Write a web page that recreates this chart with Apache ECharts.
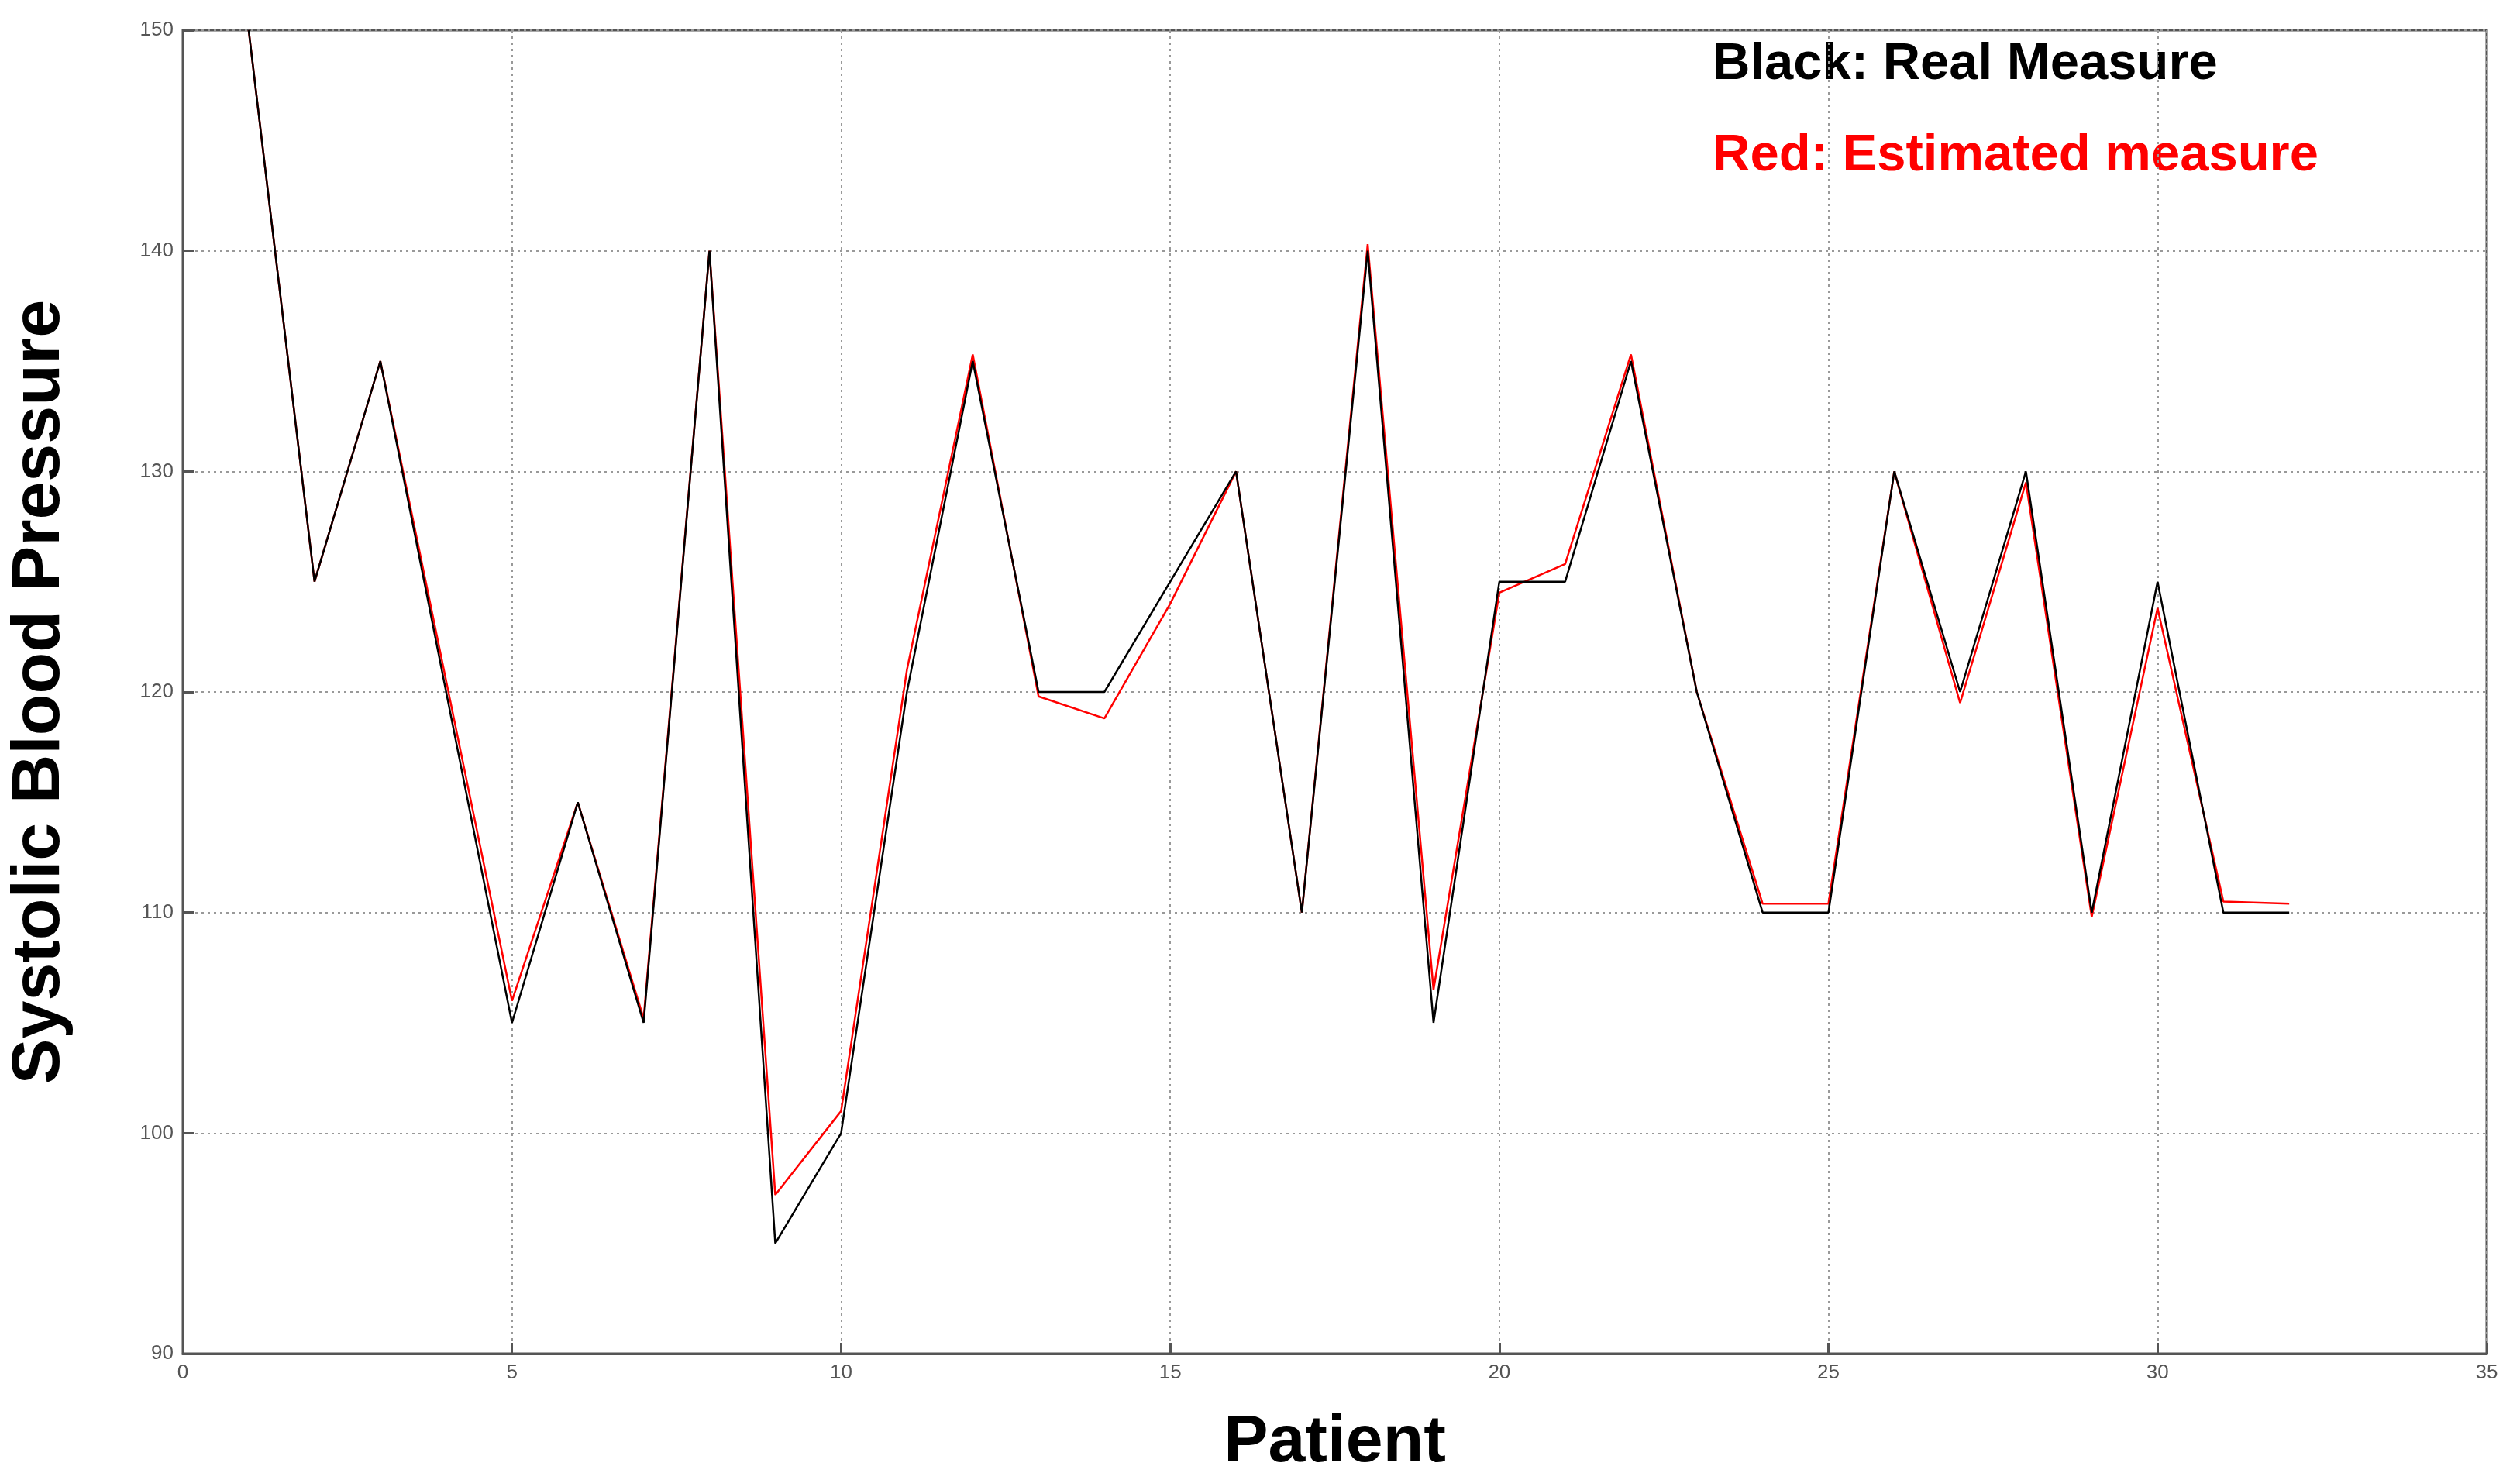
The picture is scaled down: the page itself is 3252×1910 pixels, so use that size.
<!DOCTYPE html>
<html><head><meta charset="utf-8">
<script src="https://cdn.jsdelivr.net/npm/echarts@6/dist/echarts.min.js"></script>
<style>html,body{margin:0;padding:0;background:#fff}#c{width:3252px;height:1910px}</style>
</head><body><div id="c"></div>
<script>
const patients = [1,2,3,4,5,6,7,8,9,10,11,12,13,14,15,16,17,18,19,20,21,22,23,24,25,26,27,28,29,30,31,32];
const realMeasure = [150,125,135,120,105,115,105,140,95,100,120,135,120,120,125,130,110,140,105,125,125,135,120,110,110,130,120,130,110,125,110,110];
const estimatedMeasure = [150,125,135,120.5,106,115,105.2,140,97.2,101,121,135.3,119.8,118.8,124,130,110,140.3,106.5,124.5,125.8,135.3,120,110.4,110.4,130,119.5,129.5,109.8,123.8,110.5,110.4];
const pair = (xs, ys) => xs.map((x,i)=>[x, ys[i]]);
const chart = echarts.init(document.getElementById('c'));
const grid = {color:'#999', type:[3,5], width:2};
chart.setOption({
  animation:false,
  grid:{left:217,right:43,top:39,bottom:133,show:true,borderColor:'#555',borderWidth:3},
  xAxis:{type:'value',min:0,max:35,interval:5,name:'Patient',nameLocation:'middle',nameGap:72,
    nameTextStyle:{fontFamily:'Liberation Sans',fontWeight:'bold',fontSize:86,color:'#000'},
    axisLine:{lineStyle:{color:'#555',width:3}},axisTick:{inside:true,length:14,lineStyle:{color:'#555',width:3}},
    axisLabel:{fontFamily:'Liberation Sans Narrow, Liberation Sans',fontSize:26,color:'#555',margin:12},
    splitLine:{show:true,lineStyle:grid}},
  yAxis:{type:'value',min:90,max:150,interval:10,name:'Systolic Blood Pressure',nameLocation:'middle',nameGap:140,
    nameTextStyle:{fontFamily:'Liberation Sans',fontWeight:'bold',fontSize:88,color:'#000'},
    axisLine:{lineStyle:{color:'#555',width:3}},axisTick:{inside:true,length:14,lineStyle:{color:'#555',width:3}},
    axisLabel:{fontFamily:'Liberation Sans Narrow, Liberation Sans',fontSize:26,color:'#555',margin:12},
    splitLine:{show:true,lineStyle:grid}},
  graphic:[
    {type:'text',left:2210,top:50,style:{text:'Black: Real Measure',fontFamily:'Liberation Sans',fontWeight:'bold',fontSize:67,fill:'#000'}},
    {type:'text',left:2210,top:168,style:{text:'Red: Estimated measure',fontFamily:'Liberation Sans',fontWeight:'bold',fontSize:67,fill:'#ff0000'}}
  ],
  series:[
    {name:'Estimated',type:'line',data:pair(patients,estimatedMeasure),symbol:'none',lineStyle:{color:'#ff0000',width:2.5},z:2},
    {name:'Real',type:'line',data:pair(patients,realMeasure),symbol:'none',lineStyle:{color:'#000',width:2.5},z:3}
  ]
});
</script></body></html>
